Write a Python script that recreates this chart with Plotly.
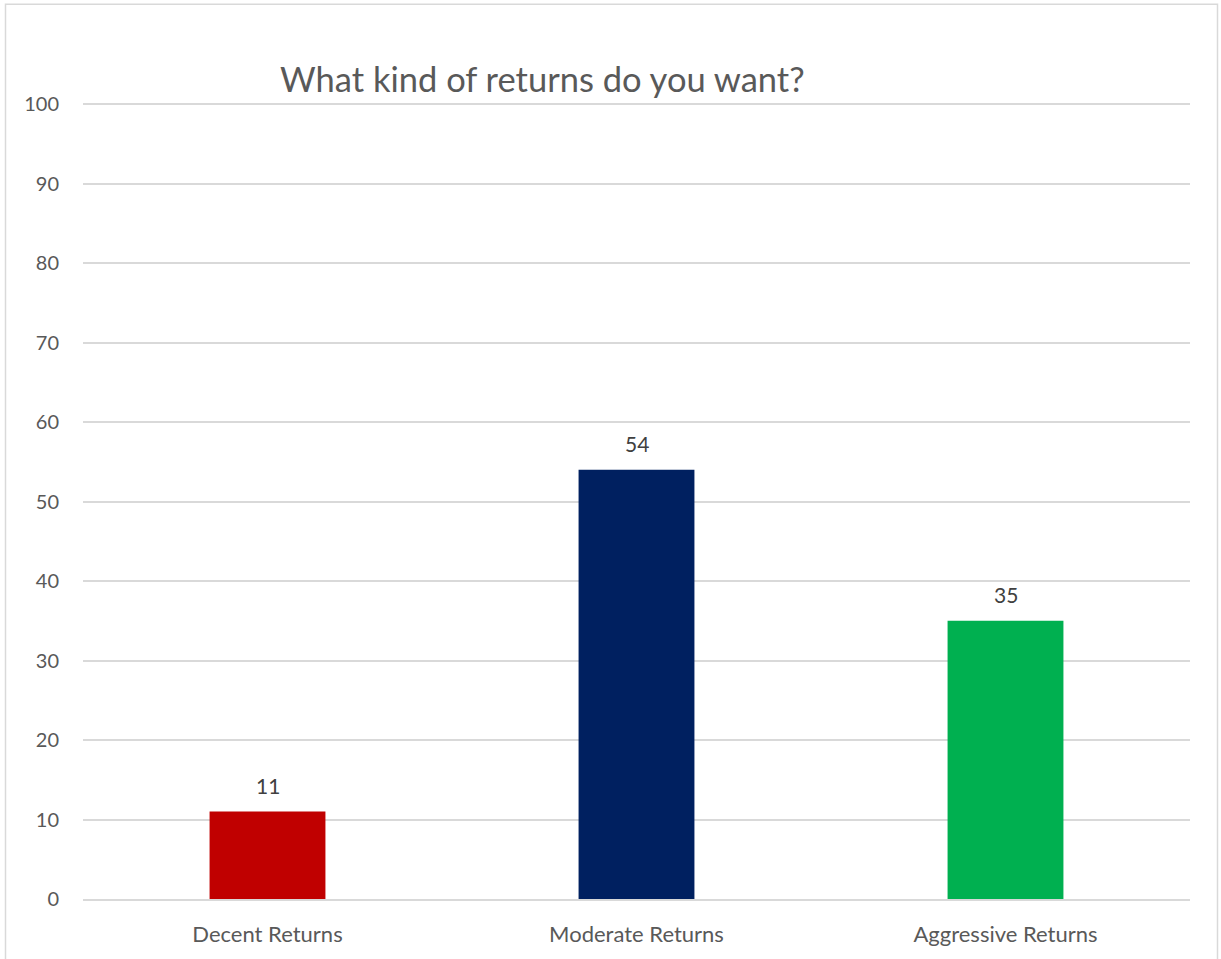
import plotly.graph_objects as go

# Survey answers: share of respondents per preferred return profile
categories = ["Decent Returns", "Moderate Returns", "Aggressive Returns"]
values = [11, 54, 35]
bar_colors = ["#C00000", "#002060", "#00B050"]
y_ticks = [0, 10, 20, 30, 40, 50, 60, 70, 80, 90, 100]

W, H = 1221, 959
ML, MR, MT, MB = 83, 31, 103, 53
PW, PH = W - ML - MR, H - MT - MB

FONT = "Lato, Carlito, Calibri, sans-serif"

fig = go.Figure(
    go.Bar(
        x=categories,
        y=values,
        marker=dict(color=bar_colors, line=dict(width=0)),
        width=0.314,
        hoverinfo="x+y",
    )
)

# value labels above each bar
for cat, val in zip(categories, values):
    fig.add_annotation(
        x=cat, y=val, text=str(val), showarrow=False,
        yanchor="bottom", yshift=12,
        font=dict(family=FONT, size=21, color="#404040"),
    )

# chart title
fig.add_annotation(
    xref="paper", yref="paper",
    x=(542 - ML) / PW, y=(H - MB - 78) / PH,
    text="What kind of returns do you want?", showarrow=False,
    xanchor="center", yanchor="middle",
    font=dict(family=FONT, size=34.5, color="#595959"),
)

# outer chart frame
def px_x(p):
    return (p - ML) / PW

def px_y(p):
    return (H - MB - p) / PH

fig.add_shape(
    type="rect", xref="paper", yref="paper",
    x0=px_x(5.5), x1=px_x(1217.5), y0=px_y(975), y1=px_y(3.5),
    line=dict(color="#d9d9d9", width=1.5), fillcolor="rgba(0,0,0,0)",
    layer="below",
)

fig.update_layout(
    width=W, height=H,
    margin=dict(l=ML, r=MR, t=MT, b=MB, pad=0),
    paper_bgcolor="white", plot_bgcolor="white",
    showlegend=False,
    font=dict(family=FONT, color="#595959"),
    bargap=0.686,
    xaxis=dict(
        showgrid=False, showline=True, linecolor="#d9d9d9", linewidth=1.5,
        ticks="", tickfont=dict(family=FONT, size=22, color="#595959"),
        ticklabelstandoff=15, fixedrange=True,
    ),
    yaxis=dict(
        range=[0, 100.15], tickvals=y_ticks, showgrid=True,
        gridcolor="#d9d9d9", gridwidth=1.5, zeroline=False, showline=False,
        ticks="", tickfont=dict(family=FONT, size=20, color="#595959"),
        ticklabelstandoff=23, fixedrange=True,
    ),
)

fig.write_html("out.html", config={"displayModeBar": False})
